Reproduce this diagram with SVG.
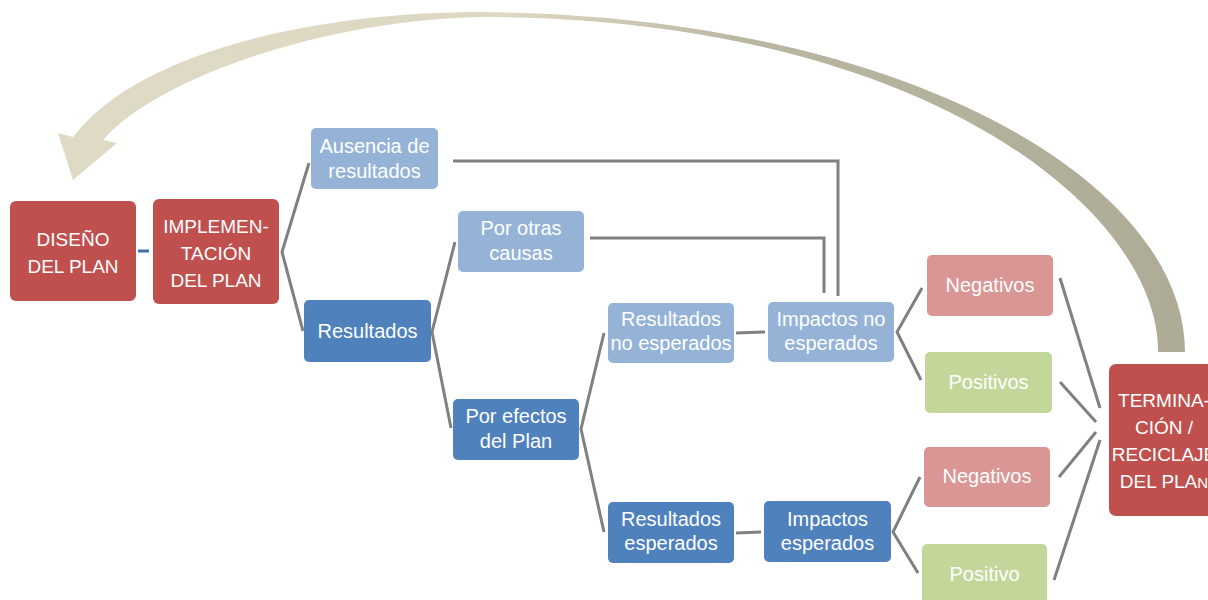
<svg xmlns="http://www.w3.org/2000/svg" width="1208" height="600" viewBox="0 0 1208 600">
  <defs>
    <linearGradient id="arcGrad" gradientUnits="userSpaceOnUse" x1="0" y1="0" x2="1208" y2="0">
      <stop offset="0" stop-color="#DEDAC5"/>
      <stop offset="0.42" stop-color="#DCD8C2"/>
      <stop offset="0.62" stop-color="#B9B6A2"/>
      <stop offset="1" stop-color="#ADAA96"/>
    </linearGradient>
  </defs>
  <style>
    .box { stroke: none; }
    .red { fill: #C0504D; }
    .dblue { fill: #4F81BD; }
    .lblue { fill: #95B3D7; }
    .pink { fill: #DA9694; }
    .green { fill: #C4D79B; }
    .lbl { font-family: "Liberation Sans", Arial, sans-serif; font-size: 20px; fill: #FFFFFF; text-anchor: middle; }
    .caps { font-size: 19px; }
    .con { fill: none; stroke: #808080; stroke-width: 3; stroke-linejoin: miter; }
  </style>

  <!-- big curved return arrow -->
  <g id="return-arrow">
    <path fill="url(#arcGrad)" d="M73,137 L58,133 L73,180 L117,143 L103,140 C160,75 330,20 480,17 C930,17 1160,215 1158,352 L1185,352 C1185,180 900,15 480,12 C320,12 140,50 73,137 Z"/>
  </g>

  <g id="connectors">
    <line x1="138" y1="251" x2="149" y2="251" stroke="#3F6FAF" stroke-width="3"/>
    <polyline class="con" points="309,163 282,252 303,331"/>
    <polyline class="con" points="455,242 432,332 451,428"/>
    <polyline class="con" points="604,333 581,429 604,532"/>
    <line class="con" x1="736" y1="333" x2="765" y2="332"/>
    <line class="con" x1="736" y1="533" x2="761" y2="532"/>
    <polyline class="con" points="922,288 897,332 921,380"/>
    <polyline class="con" points="920,477 893,532 918,573"/>
    <polyline class="con" points="453,161 838,161 838,296"/>
    <polyline class="con" points="590,238 824,238 824,293"/>
    <line class="con" x1="1060" y1="278" x2="1100" y2="408"/>
    <line class="con" x1="1060" y1="382" x2="1096" y2="422"/>
    <line class="con" x1="1059" y1="477" x2="1096" y2="432"/>
    <line class="con" x1="1054" y1="580" x2="1100" y2="440"/>
  </g>

  <g id="diseno">
    <rect class="box red" x="10" y="201" width="126" height="100" rx="6"/>
    <text class="lbl caps" x="73" y="246">DISEÑO</text>
    <text class="lbl caps" x="73" y="273">DEL PLAN</text>
  </g>

  <g id="implementacion">
    <rect class="box red" x="153" y="199" width="126" height="105" rx="6"/>
    <text class="lbl caps" x="216" y="233">IMPLEMEN-</text>
    <text class="lbl caps" x="216" y="260">TACIÓN</text>
    <text class="lbl caps" x="216" y="287">DEL PLAN</text>
  </g>

  <g id="ausencia">
    <rect class="box lblue" x="311" y="128" width="127" height="61" rx="5"/>
    <text class="lbl" x="374.5" y="153">Ausencia de</text>
    <text class="lbl" x="374.5" y="178">resultados</text>
  </g>

  <g id="resultados">
    <rect class="box dblue" x="304" y="300" width="127" height="62" rx="5"/>
    <text class="lbl" x="367.5" y="338">Resultados</text>
  </g>

  <g id="por-otras-causas">
    <rect class="box lblue" x="458" y="211" width="126" height="61" rx="5"/>
    <text class="lbl" x="521" y="235">Por otras</text>
    <text class="lbl" x="521" y="260">causas</text>
  </g>

  <g id="por-efectos">
    <rect class="box dblue" x="453" y="399" width="126" height="61" rx="5"/>
    <text class="lbl" x="516" y="423">Por efectos</text>
    <text class="lbl" x="516" y="448">del Plan</text>
  </g>

  <g id="resultados-no-esperados">
    <rect class="box lblue" x="608" y="303" width="126" height="60" rx="5"/>
    <text class="lbl" x="671" y="326">Resultados</text>
    <text class="lbl" x="671" y="350">no esperados</text>
  </g>

  <g id="impactos-no-esperados">
    <rect class="box lblue" x="768" y="302" width="126" height="60" rx="5"/>
    <text class="lbl" x="831" y="326">Impactos no</text>
    <text class="lbl" x="831" y="350">esperados</text>
  </g>

  <g id="resultados-esperados">
    <rect class="box dblue" x="608" y="502" width="126" height="61" rx="5"/>
    <text class="lbl" x="671" y="526">Resultados</text>
    <text class="lbl" x="671" y="550">esperados</text>
  </g>

  <g id="impactos-esperados">
    <rect class="box dblue" x="764" y="501" width="127" height="61" rx="5"/>
    <text class="lbl" x="827.5" y="526">Impactos</text>
    <text class="lbl" x="827.5" y="550">esperados</text>
  </g>

  <g id="negativos-1">
    <rect class="box pink" x="927" y="255" width="126" height="61" rx="5"/>
    <text class="lbl" x="990" y="292">Negativos</text>
  </g>

  <g id="positivos-1">
    <rect class="box green" x="925" y="352" width="127" height="61" rx="5"/>
    <text class="lbl" x="988.5" y="389">Positivos</text>
  </g>

  <g id="negativos-2">
    <rect class="box pink" x="924" y="447" width="126" height="60" rx="5"/>
    <text class="lbl" x="987" y="483">Negativos</text>
  </g>

  <g id="positivo-2">
    <rect class="box green" x="922" y="544" width="125" height="70" rx="5"/>
    <text class="lbl" x="984.5" y="581">Positivo</text>
  </g>

  <g id="terminacion">
    <rect class="box red" x="1109" y="364" width="108" height="152" rx="7"/>
    <text class="lbl caps" x="1164" y="407">TERMINA-</text>
    <text class="lbl caps" x="1164" y="434">CIÓN /</text>
    <text class="lbl caps" x="1164" y="461">RECICLAJE</text>
    <text class="lbl caps" x="1164" y="488">DEL PLA<tspan font-size="15">N</tspan></text>
  </g>
</svg>
